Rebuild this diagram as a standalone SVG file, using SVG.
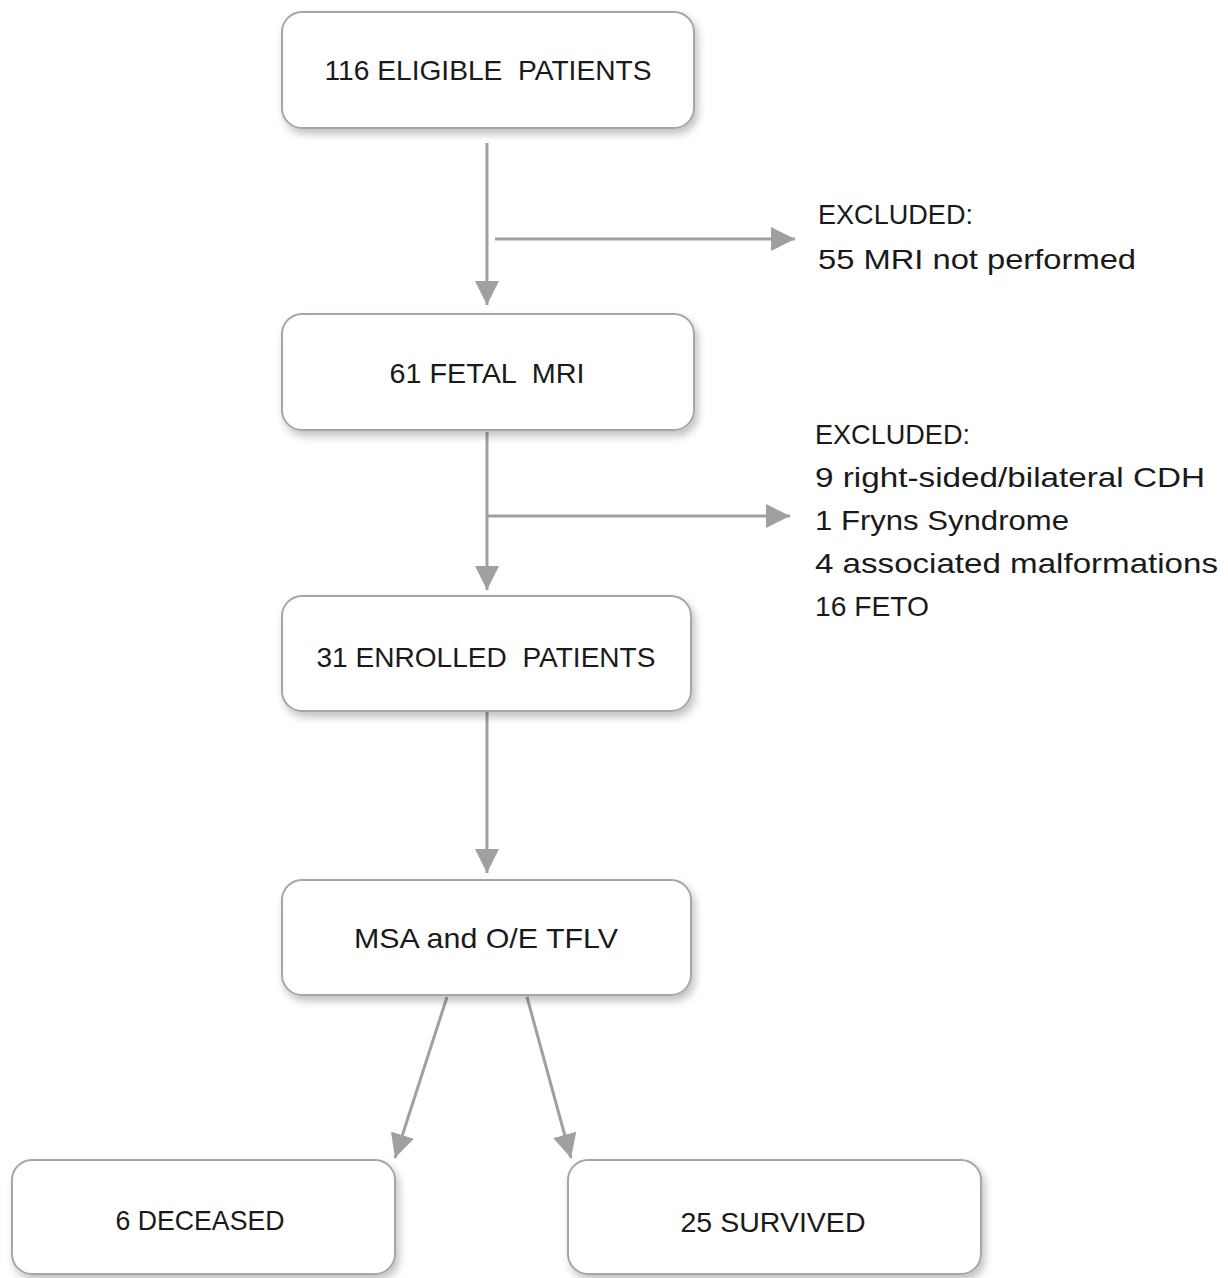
<svg xmlns="http://www.w3.org/2000/svg" width="1228" height="1278" viewBox="0 0 1228 1278">
<defs>
<style>
.box{fill:#fff;stroke:#a6a6a6;stroke-width:2;filter:url(#sh)}
.t{font-family:"Liberation Sans",Arial,sans-serif;font-size:28px;fill:#1a1a1a;text-anchor:middle;white-space:pre}
.s{font-family:"Liberation Sans",Arial,sans-serif;font-size:28px;fill:#1a1a1a}
.c{stroke:#a0a0a0;stroke-width:3;fill:none;marker-end:url(#ah)}
</style>
<filter id="sh" x="-10%" y="-20%" width="125%" height="150%">
<feGaussianBlur in="SourceAlpha" stdDeviation="4"/>
<feOffset dx="3" dy="5"/>
<feComponentTransfer><feFuncA type="linear" slope="0.25"/></feComponentTransfer>
<feMerge><feMergeNode/><feMergeNode in="SourceGraphic"/></feMerge>
</filter>
<marker id="ah" markerUnits="userSpaceOnUse" markerWidth="24" markerHeight="24" viewBox="0 0 22 22" refX="22" refY="11" orient="auto">
<path d="M0,0 L22,11 L0,22 Z" fill="#a0a0a0"/>
</marker>
</defs>
<g id="connectors">
<line class="c" x1="487" y1="143" x2="487" y2="305"/>
<line class="c" x1="495" y1="239" x2="795" y2="239"/>
<line class="c" x1="487" y1="432" x2="487" y2="590"/>
<line class="c" x1="488" y1="516" x2="790" y2="516"/>
<line class="c" x1="487" y1="712" x2="487" y2="873"/>
<line class="c" x1="447" y1="997" x2="395" y2="1158"/>
<line class="c" x1="527" y1="997" x2="571" y2="1158"/>
</g>
<g id="n1"><rect class="box" x="282" y="12" width="412" height="116" rx="20"/><text class="t" x="488" y="80" textLength="327" lengthAdjust="spacingAndGlyphs" xml:space="preserve">116 ELIGIBLE  PATIENTS</text></g>
<g id="n2"><rect class="box" x="282" y="314" width="412" height="116" rx="20"/><text class="t" x="487" y="383" textLength="195" lengthAdjust="spacingAndGlyphs" xml:space="preserve">61 FETAL  MRI</text></g>
<g id="n3"><rect class="box" x="282" y="596" width="409" height="115" rx="20"/><text class="t" x="486" y="667" textLength="339" lengthAdjust="spacingAndGlyphs" xml:space="preserve">31 ENROLLED  PATIENTS</text></g>
<g id="n4"><rect class="box" x="282" y="880" width="409" height="115" rx="20"/><text class="t" x="486" y="948" textLength="264" lengthAdjust="spacingAndGlyphs">MSA and O/E TFLV</text></g>
<g id="n5"><rect class="box" x="12" y="1160" width="383" height="114" rx="20"/><text class="t" x="200" y="1230" textLength="169" lengthAdjust="spacingAndGlyphs">6 DECEASED</text></g>
<g id="n6"><rect class="box" x="568" y="1160" width="413" height="114" rx="20"/><text class="t" x="773" y="1232" textLength="185" lengthAdjust="spacingAndGlyphs">25 SURVIVED</text></g>
<g id="ex1">
<text class="s" x="818" y="224" textLength="155" lengthAdjust="spacingAndGlyphs">EXCLUDED:</text>
<text class="s" x="818" y="269" textLength="318" lengthAdjust="spacingAndGlyphs">55 MRI not performed</text>
</g>
<g id="ex2">
<text class="s" x="815" y="444" textLength="155" lengthAdjust="spacingAndGlyphs">EXCLUDED:</text>
<text class="s" x="815" y="487" textLength="390" lengthAdjust="spacingAndGlyphs">9 right-sided/bilateral CDH</text>
<text class="s" x="815" y="530" textLength="254" lengthAdjust="spacingAndGlyphs">1 Fryns Syndrome</text>
<text class="s" x="815" y="573" textLength="403" lengthAdjust="spacingAndGlyphs">4 associated malformations</text>
<text class="s" x="815" y="616" textLength="114" lengthAdjust="spacingAndGlyphs">16 FETO</text>
</g>
</svg>
